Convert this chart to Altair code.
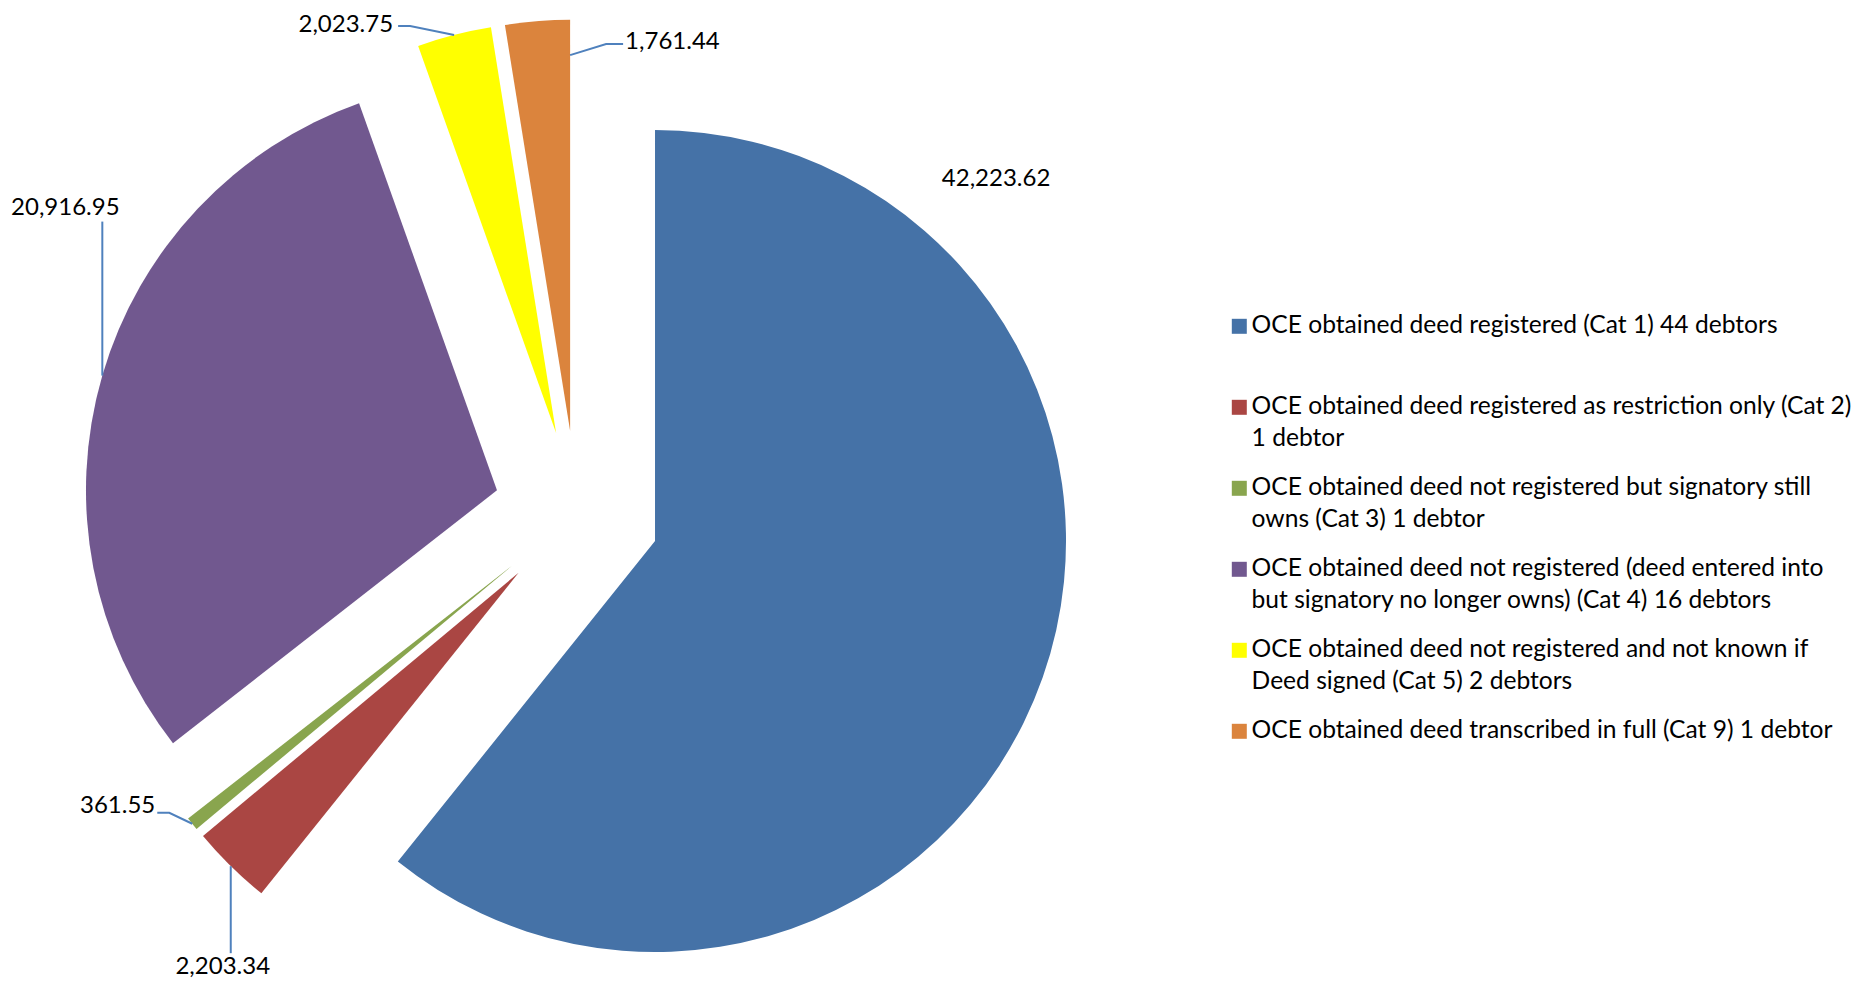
import math
import altair as alt
import pandas as pd

# ---------------- data ----------------
categories = [
    "OCE obtained deed registered (Cat 1) 44 debtors",
    "OCE obtained deed registered as restriction only (Cat 2)\n1 debtor",
    "OCE obtained deed not registered but signatory still\nowns (Cat 3) 1 debtor",
    "OCE obtained deed not registered (deed entered into\nbut signatory no longer owns) (Cat 4) 16 debtors",
    "OCE obtained deed not registered and not known if\nDeed signed (Cat 5) 2 debtors",
    "OCE obtained deed transcribed in full (Cat 9) 1 debtor",
]
values = [42223.62, 2203.34, 361.55, 20916.95, 2023.75, 1761.44]
colors = ["#4572A7", "#AA4643", "#89A54E", "#71588F", "#FFFF00", "#DB843D"]

# ---------------- layout / style ----------------
FONT = "Lato"
FS = 24
LEG_FS = 24.6
W, H = 1858, 970
R_PX = 411.0                 # pie radius in pixels
CX_PX, CY_PX = 568.7, 505.5  # pie centre inside the plot
EXPLODE = 0.202              # explosion as a fraction of the radius
LEADER = "#4F81BD"

x_dom = [-CX_PX / R_PX, (W - CX_PX) / R_PX]
y_dom = [-(H - CY_PX) / R_PX, CY_PX / R_PX]

total = sum(values)
t0s, t1s, mids = [], [], []
acc = 0.0
for v in values:
    a0 = acc / total * 2 * math.pi
    acc += v
    a1 = acc / total * 2 * math.pi
    t0s.append(a0)
    t1s.append(a1)
    mids.append((a0 + a1) / 2)
cxs = [EXPLODE * math.sin(m) for m in mids]
cys = [EXPLODE * math.cos(m) for m in mids]

slices = pd.DataFrame({
    "category": categories, "value": values,
    "t0": t0s, "t1": t1s, "cx": cxs, "cy": cys,
})


def polar(i, ang_rad, rad):
    return cxs[i] + rad * math.sin(ang_rad), cys[i] + rad * math.cos(ang_rad)


def shift(p, dx_px, dy_px):
    return p[0] + dx_px / R_PX, p[1] - dy_px / R_PX


# slice, anchor angle on slice (None = mid angle), anchor radius,
# elbow offset, end offset from elbow, text align, text offset from end (px)
leader_layout = [
    (1, None, 1.0, (0, 0), (0, 87), "center", (-8, 14)),
    (2, None, 1.0, (-23, -11), (-12, 0), "right", (-2, -7)),
    (3, None, 1.0, (0, 0), (0, -154), "center", (-37, -14)),
    (4, None, 1.0, (-44, -9), (-12, 0), "right", (-5, -1)),
    (5, 0.0, 0.914, (36, -11), (17, 0), "left", (2, -2)),
]

line_rows, text_rows = [], []
for i, ang, rad, elbow, end, align, toff in leader_layout:
    a = mids[i] if ang is None else ang
    p0 = polar(i, a, rad)
    p1 = shift(p0, *elbow)
    p2 = shift(p1, *end)
    for k, p in enumerate([p0, p1, p2]):
        line_rows.append({"slice": i, "seq": k, "x": p[0], "y": p[1]})
    pt = shift(p2, *toff)
    text_rows.append({"value": values[i], "x": pt[0], "y": pt[1], "align": align})

# label of the big slice (no leader line)
blue_pt = polar(0, math.radians(43.3), 1.210)
text_rows.append({"value": values[0], "x": blue_pt[0], "y": blue_pt[1], "align": "center"})

lines = pd.DataFrame(line_rows)
texts = pd.DataFrame(text_rows)

xs = alt.Scale(domain=x_dom, nice=False, zero=False)
ys = alt.Scale(domain=y_dom, nice=False, zero=False)

pie = alt.Chart(slices).mark_arc(radius=R_PX, strokeWidth=0).encode(
    x=alt.X("cx:Q", scale=xs, axis=None),
    y=alt.Y("cy:Q", scale=ys, axis=None),
    theta=alt.Theta("t0:Q", scale=None),
    theta2=alt.Theta2("t1:Q"),
    color=alt.Color(
        "category:N",
        scale=alt.Scale(domain=categories, range=colors),
        legend=alt.Legend(
            title=None,
            orient="none",
            legendX=1219,
            legendY=306,
            direction="vertical",
            symbolType="square",
            symbolSize=225,
            symbolStrokeWidth=0,
            symbolOpacity=1,
            labelFont=FONT,
            labelFontSize=LEG_FS,
            labelColor="#000000",
            labelLimit=900,
            labelOffset=0,
            rowPadding=24,
            padding=0,
            labelExpr="length(split(datum.label, '\\n')) > 1 ? split(datum.label, '\\n') : [datum.label, '']",
        ),
    ),
)

leaders = alt.Chart(lines).mark_line(color=LEADER, strokeWidth=2).encode(
    x=alt.X("x:Q", scale=xs, axis=None),
    y=alt.Y("y:Q", scale=ys, axis=None),
    detail="slice:N",
    order="seq:Q",
)


def text_layer(align):
    return alt.Chart(texts).transform_filter(
        alt.datum.align == align
    ).mark_text(font=FONT, fontSize=FS, color="#000000", align=align, baseline="middle").encode(
        x=alt.X("x:Q", scale=xs, axis=None),
        y=alt.Y("y:Q", scale=ys, axis=None),
        text=alt.Text("value:Q", format=",.2f"),
    )


chart = alt.layer(
    pie, leaders, text_layer("center"), text_layer("right"), text_layer("left")
).properties(
    width=W, height=H, padding=0, autosize=alt.AutoSizeParams(type="none")
).configure(
    style={"guide-label": {"lineHeight": 32}},
    view=alt.ViewConfig(strokeWidth=0, stroke="transparent"),
)

chart.save("out.html", embed_options={"renderer": "svg", "actions": False})
